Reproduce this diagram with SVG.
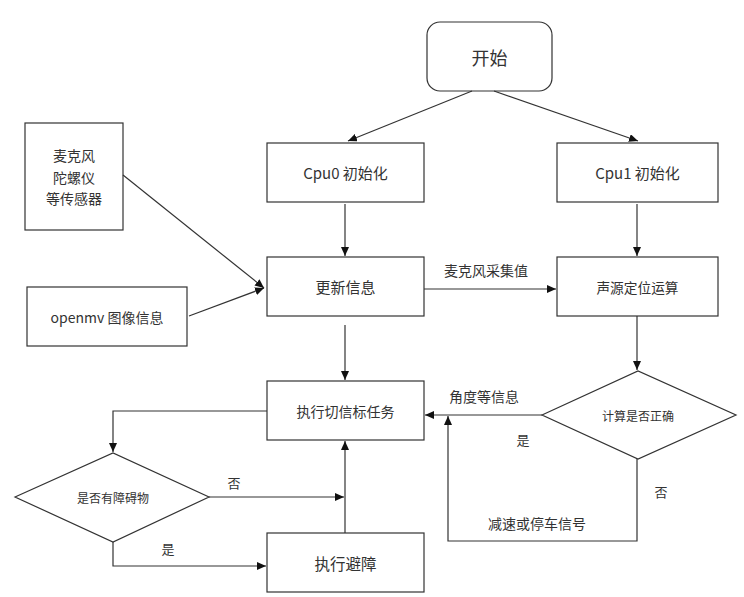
<svg xmlns="http://www.w3.org/2000/svg" width="744" height="597" viewBox="0 0 744 597">
<style>
.box{fill:#fff;stroke:#333;stroke-width:1.2}
.t{font-family:"Noto Sans CJK SC","Liberation Sans",sans-serif;fill:#333;text-anchor:middle;dominant-baseline:central}
.c{fill:none;stroke:#333;stroke-width:1.2}
</style>
<defs>
<marker id="ah" markerUnits="userSpaceOnUse" markerWidth="10" markerHeight="8" refX="9" refY="4" orient="auto">
<path d="M0,0 L9,4 L0,8 Z" fill="#111"/>
</marker>
</defs>
<rect width="744" height="597" fill="#fff"/>
<g id="start"><rect class="box" x="427" y="22" width="125" height="69" rx="13"/><text class="t" x="489.5" y="56.5" font-size="18">开始</text></g>
<g id="cpu0"><rect class="box" x="267" y="143" width="157" height="59"/><text class="t" x="345.5" y="172.5" font-size="15">Cpu0 初始化</text></g>
<g id="cpu1"><rect class="box" x="557" y="143" width="161" height="59"/><text class="t" x="637.5" y="172.5" font-size="15">Cpu1 初始化</text></g>
<g id="sensors"><rect class="box" x="25" y="123" width="98" height="107"/><text class="t" x="74" y="155" font-size="14">麦克风</text><text class="t" x="74" y="177" font-size="14">陀螺仪</text><text class="t" x="74" y="198" font-size="14">等传感器</text></g>
<g id="openmv"><rect class="box" x="27" y="287" width="160" height="59"/><text class="t" x="107" y="316.5" font-size="14">openmv 图像信息</text></g>
<g id="update"><rect class="box" x="267" y="257" width="157" height="59"/><text class="t" x="345.5" y="286.5" font-size="15">更新信息</text></g>
<g id="locate"><rect class="box" x="557" y="257" width="161" height="59"/><text class="t" x="637.5" y="286.5" font-size="13.7">声源定位运算</text></g>
<g id="task"><rect class="box" x="267" y="381" width="157" height="59"/><text class="t" x="345.5" y="410.5" font-size="14">执行切信标任务</text></g>
<g id="avoid"><rect class="box" x="267" y="533" width="157" height="59"/><text class="t" x="345.5" y="562.5" font-size="15.5">执行避障</text></g>
<g id="obstacle"><polygon class="box" points="15,497 113,453 209,497 113,542"/><text class="t" x="113" y="497" font-size="12">是否有障碍物</text></g>
<g id="check"><polygon class="box" points="542,415 638,371 736,415 638,459"/><text class="t" x="638" y="415" font-size="12">计算是否正确</text></g>
<g id="connectors">
<path class="c" d="M472,91 L348,141" marker-end="url(#ah)"/>
<path class="c" d="M494,91 L638,141" marker-end="url(#ah)"/>
<path class="c" d="M345,204 L345,256" marker-end="url(#ah)"/>
<path class="c" d="M637,204 L637,256" marker-end="url(#ah)"/>
<path class="c" d="M123,175 L264,288" marker-end="url(#ah)"/>
<path class="c" d="M189,316 L264,288" marker-end="url(#ah)"/>
<path class="c" d="M424,289 L556,289" marker-end="url(#ah)"/>
<path class="c" d="M345,325 L345,380" marker-end="url(#ah)"/>
<path class="c" d="M637,316 L637,370" marker-end="url(#ah)"/>
<path class="c" d="M542,415 L425,415" marker-end="url(#ah)"/>
<path class="c" d="M637,459 L637,541 L448,541 L448,416" marker-end="url(#ah)"/>
<path class="c" d="M267,411 L113,411 L113,452" marker-end="url(#ah)"/>
<path class="c" d="M209,497 L344,497" marker-end="url(#ah)"/>
<path class="c" d="M113,542 L113,566 L266,566" marker-end="url(#ah)"/>
<path class="c" d="M345,533 L345,441" marker-end="url(#ah)"/>
<text class="t" x="486" y="270" font-size="14">麦克风采集值</text>
<text class="t" x="484" y="396" font-size="14">角度等信息</text>
<text class="t" x="523" y="439" font-size="13">是</text>
<text class="t" x="661" y="491" font-size="13">否</text>
<text class="t" x="537" y="523" font-size="14">减速或停车信号</text>
<text class="t" x="234" y="482" font-size="13">否</text>
<text class="t" x="168" y="548" font-size="13">是</text>
</g>
</svg>
